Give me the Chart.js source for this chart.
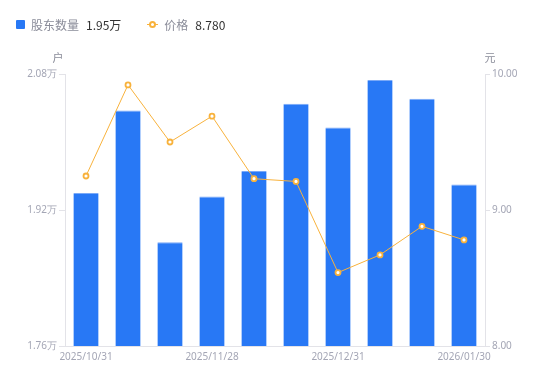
<!DOCTYPE html>
<html>
<head>
<meta charset="utf-8">
<script src="https://cdn.jsdelivr.net/npm/chart.js@4.4.1/dist/chart.umd.min.js"></script>
<style>
html,body{margin:0;padding:0;background:#fff;}
#wrap{position:relative;width:550px;height:381px;}
#legend{position:absolute;left:16px;top:15px;font-family:"Noto Sans CJK SC","Noto Sans",sans-serif;font-size:12px;display:flex;align-items:center;height:18px;}
.sq{width:9px;height:9px;background:#2878f5;border-radius:1px;margin-right:6px;}
.ln{position:relative;width:11px;height:9px;margin-right:6px;}
.ln:before{content:"";position:absolute;left:0;right:0;top:4px;height:1px;background:#f8b23c;}
.ln:after{content:"";position:absolute;left:2px;top:1px;width:3px;height:3px;border:2px solid #f8b23c;border-radius:50%;background:#fff;}
.lab{color:#8a8c99;margin-right:7px;}
.val{color:#333;margin-right:26px;}
canvas{position:absolute;left:0;top:0;}
</style>
</head>
<body>
<div id="wrap">
<canvas id="c" width="550" height="381"></canvas>
<div id="legend"></div>
</div>
<script>
const categories = ["2025/10/31","2025/11/10","2025/11/20","2025/11/28","2025/12/10","2025/12/20","2025/12/31","2026/01/09","2026/01/20","2026/01/30"];
const holders = [1.940, 2.037, 1.882, 1.936, 1.966, 2.045, 2.017, 2.073, 2.051, 1.950]; // 万户
const prices = [9.25, 9.92, 9.50, 9.69, 9.23, 9.21, 8.54, 8.67, 8.88, 8.78];
const leftTicks = [1.76, 1.92, 2.08];
const rightTicks = [8.00, 9.00, 10.00];
const seriesNames = ["股东数量", "价格"];
const leftUnit = "户";
const rightUnit = "元";

document.getElementById('legend').innerHTML =
  '<span class="sq"></span><span class="lab">' + seriesNames[0] + '</span><span class="val">' + holders[holders.length-1].toFixed(2) + '万</span>' +
  '<span class="ln"></span><span class="lab">' + seriesNames[1] + '</span><span class="val">' + prices[prices.length-1].toFixed(3) + '</span>';

const tickColor = '#a4a6b5';
const axisColor = '#e3e3e8';
const fontFam = '"Noto Sans","Liberation Sans",sans-serif';

const unitPlugin = {
  id: 'units',
  afterDraw(chart) {
    const ctx = chart.ctx, a = chart.chartArea;
    ctx.save();
    ctx.fillStyle = '#8a8c99';
    ctx.font = '11px "Noto Sans CJK SC", sans-serif';
    ctx.textBaseline = 'middle';
    ctx.textAlign = 'center';
    ctx.fillText(leftUnit, a.left - 7, a.top - 16);
    ctx.fillText(rightUnit, a.right + 5, a.top - 16);
    ctx.restore();
  }
};

new Chart(document.getElementById('c'), {
  data: {
    labels: categories,
    datasets: [
      {
        type: 'line', label: seriesNames[1], data: prices, yAxisID: 'y1',
        borderColor: '#f8b23c', borderWidth: 1, backgroundColor: '#fff',
        pointRadius: 2.5, pointBorderWidth: 1.8, pointBackgroundColor: '#fff',
        pointBorderColor: '#f8b23c', tension: 0, order: 0
      },
      {
        type: 'bar', label: seriesNames[0], data: holders, yAxisID: 'y',
        backgroundColor: '#2878f5', borderColor: '#7aa9f7', borderWidth: {top:1,left:0,right:0,bottom:0},
        barPercentage: 0.6, categoryPercentage: 1.0, order: 1
      }
    ]
  },
  options: {
    responsive: false, animation: false,
    layout: { padding: { top: 74, left: 0, right: 0, bottom: 0 } },
    plugins: { legend: { display: false }, tooltip: { enabled: false } },
    scales: {
      x: {
        offset: true,
        grid: { display: false, drawTicks: false },
        border: { display: true, color: axisColor },
        ticks: {
          autoSkip: false, maxRotation: 0, color: tickColor, padding: 5,
          font: { size: 10, family: fontFam },
          callback: function(v, i) { return i % 3 === 0 ? categories[i] : ''; }
        },
        afterFit(s) { s.height = 35; }
      },
      y: {
        position: 'left', min: leftTicks[0], max: leftTicks[leftTicks.length-1],
        afterBuildTicks(s) { s.ticks = leftTicks.map(v => ({ value: v })); },
        grid: { drawOnChartArea: false, tickLength: 6, color: axisColor },
        border: { display: true, color: axisColor },
        ticks: { color: tickColor, padding: 2, font: { size: 10, family: fontFam },
          callback: v => v.toFixed(2) + '万' },
        afterFit(s) { s.width = 65; }
      },
      y1: {
        position: 'right', min: rightTicks[0], max: rightTicks[rightTicks.length-1],
        afterBuildTicks(s) { s.ticks = rightTicks.map(v => ({ value: v })); },
        grid: { drawOnChartArea: false, tickLength: 5, color: axisColor },
        border: { display: true, color: axisColor },
        ticks: { color: tickColor, padding: 2, font: { size: 10, family: fontFam },
          callback: v => v.toFixed(2) },
        afterFit(s) { s.width = 65; }
      }
    }
  },
  plugins: [unitPlugin]
});
</script>
</body>
</html>
